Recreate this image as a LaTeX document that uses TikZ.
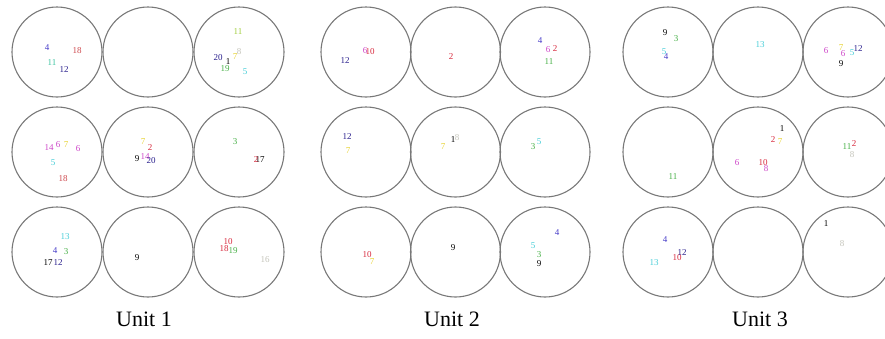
\documentclass[tikz,border=0pt]{standalone}
\usepackage{fontspec}
\setmainfont{Liberation Serif}
\usetikzlibrary{positioning}
\definecolor{wellgray}{RGB}{120,120,120}
\definecolor{nred}{RGB}{215,40,60}
\definecolor{nsalmon}{RGB}{205,70,75}
\definecolor{ngreen}{RGB}{70,175,70}
\definecolor{nlime}{RGB}{160,205,60}
\definecolor{nteal}{RGB}{60,195,160}
\definecolor{nblue}{RGB}{70,60,200}
\definecolor{ndblue}{RGB}{40,30,140}
\definecolor{ncyan}{RGB}{70,205,215}
\definecolor{nmag}{RGB}{205,70,200}
\definecolor{nyel}{RGB}{230,210,50}
\definecolor{nlgray}{RGB}{195,195,185}

\begin{document}
\begin{tikzpicture}[x=1pt,y=-1pt,
  well/.style={draw=wellgray,line width=1.1pt,circle,minimum size=90pt,inner sep=0pt},
  num/.style={font=\fontsize{9}{9}\selectfont,inner sep=0pt},
  unitlabel/.style={font=\fontsize{22}{22}\selectfont,inner sep=0pt}]
  \useasboundingbox (0,0) rectangle (885,338);
  % Wells
  \foreach \u/\x/\dx in {1/57/91,2/366/89.5,3/668/90}
    \foreach \r/\y in {1/52,2/152,3/252}
      \foreach \c in {0,1,2}
        \node[well] (u\u r\r c\c) at (\x+\c*\dx,\y) {};
  % Unit 1
  \foreach \x/\y/\t/\col [count=\i] in {
      47/48/4/nblue, 77/51/18/nsalmon, 52/63/11/nteal, 64/70/12/ndblue,
      238/32/11/nlime, 239/52/8/nlgray, 235/57/7/nyel, 218/58/20/ndblue,
      228/62/1/black, 225/69/19/ngreen, 245/72/5/ncyan,
      49/148/14/nmag, 58/145/6/nmag, 66/145/7/nyel, 78/149/6/nmag,
      53/163/5/ncyan, 63/179/18/nsalmon,
      143/142/7/nyel, 150/148/2/nred, 137/159/9/black, 145/157/14/nmag,
      151/161/20/ndblue,
      235/142/3/ngreen, 260/160/17/black, 256/160/2/nred,
      65/237/13/ncyan, 55/251/4/nblue, 66/252/3/ngreen, 48/263/17/black,
      58/263/12/ndblue,
      137/258/9/black,
      228/242/10/nred, 224/249/18/nred, 233/251/19/ngreen, 265/260/16/nlgray}
    \node[num,text=\col] (a\i) at (\x,\y) {\t};
  % Unit 2
  \foreach \x/\y/\t/\col [count=\i] in {
      345/61/12/ndblue, 365/51/6/nmag, 370/52/10/nred,
      451/57/2/nred,
      540/41/4/nblue, 548/50/6/nmag, 555/49/2/nred, 549/62/11/ngreen,
      347/137/12/ndblue, 348/151/7/nyel,
      443/147/7/nyel, 453/140/1/black, 457/138/8/nlgray,
      533/147/3/ngreen, 539/142/5/ncyan,
      367/255/10/nred, 372/262/7/nyel,
      453/248/9/black,
      557/233/4/nblue, 533/246/5/ncyan, 539/255/3/ngreen, 539/264/9/black}
    \node[num,text=\col] (b\i) at (\x,\y) {\t};
  % Unit 3
  \foreach \x/\y/\t/\col [count=\i] in {
      665/33/9/black, 676/39/3/ngreen, 664/52/5/ncyan, 666/57/4/nblue,
      760/45/13/ncyan,
      826/51/6/nmag, 841/48/7/nyel, 843/54/6/nmag, 852/53/5/ncyan,
      858/49/12/ndblue, 841/64/9/black,
      673/177/11/ngreen,
      782/129/1/black, 773/140/2/nred, 780/142/7/nyel, 737/163/6/nmag,
      763/163/10/nred, 766/169/8/nmag,
      847/147/11/ngreen, 854/144/2/nred, 852/155/8/nlgray,
      665/240/4/nblue, 654/263/13/ncyan, 677/258/10/nred, 682/253/12/ndblue,
      826/224/1/black, 842/244/8/nlgray}
    \node[num,text=\col] (c\i) at (\x,\y) {\t};
  % Unit labels
  \node[unitlabel] (unit1) at (144,319) {Unit 1};
  \node[unitlabel] (unit2) at (452,319) {Unit 2};
  \node[unitlabel] (unit3) at (760,319) {Unit 3};
\end{tikzpicture}
\end{document}
